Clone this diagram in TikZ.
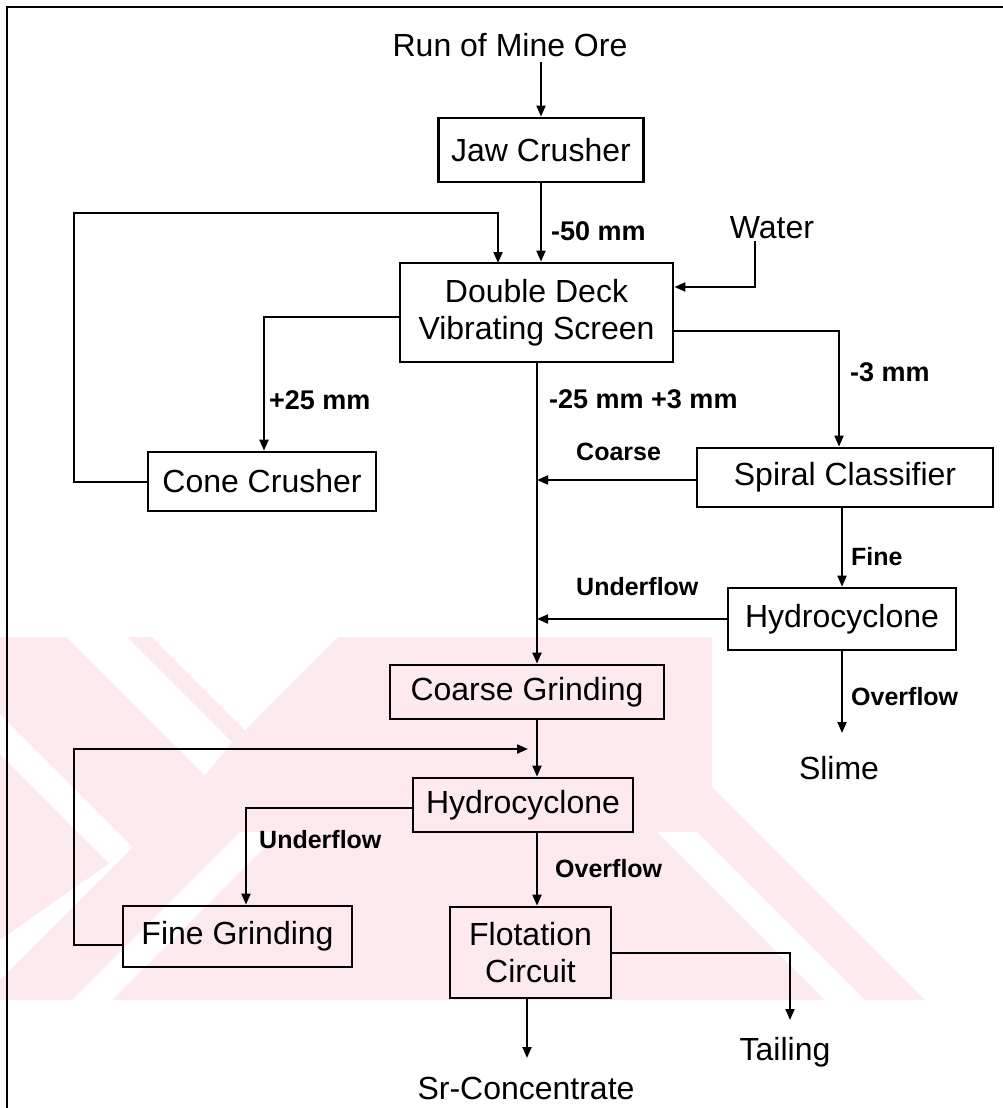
\documentclass[tikz,border=0pt]{standalone}
\usepackage{fontspec}
\setmainfont{Liberation Sans}
\usetikzlibrary{arrows.meta,calc}

\newcommand\mainsize{\fontsize{32}{37}\selectfont}
\newcommand\lblsize{\fontsize{25}{29}\selectfont\bfseries}
\newcommand\mmsize{\fontsize{27}{31}\selectfont\bfseries}
\definecolor{wmpink}{RGB}{253,234,238}

\begin{document}
\begin{tikzpicture}[x=1pt,y=-1pt,
  unit/.style={draw,line width=2.8pt,inner sep=0pt,font=\mainsize,align=center},
  term/.style={inner sep=0pt,font=\mainsize},
  lbl/.style={inner sep=0pt,font=\lblsize,anchor=west},
  mmlbl/.style={inner sep=0pt,font=\mmsize,anchor=west},
  arr/.style={line width=2pt,-{Triangle[length=11pt,width=9pt]}}]

\useasboundingbox (0,0) rectangle (1003,1108);

% faint background emblem
\fill[wmpink] (0,637) -- (712,637) -- (712,787) -- (925,1000) -- (0,1000) -- cycle;
\fill[white] (67,637) -- (127,637) -- (232,742) -- (205,775) -- cycle;
\fill[white] (152,637) -- (338,637) -- (245,730) -- cycle;
\fill[white] (0,714) -- (0,754) -- (113,867) -- (133,847) -- cycle;
\fill[white] (133,847) -- (113,867) -- (0,980) -- (0,940) -- cycle;
\fill[white] (657,832) -- (697,832) -- (865,1000) -- (825,1000) -- cycle;
\fill[white] (240,832) -- (280,832) -- (112,1000) -- (72,1000) -- cycle;

% frame
\draw[line width=2.6pt] (7,1108) -- (7,7) -- (1003,7);

% units
\node[term] (run) at (510,45) {Run of Mine Ore};
\node[unit,minimum width=205pt,minimum height=64pt] (jaw) at (541,150) {Jaw Crusher};
\node[unit,minimum width=273pt,minimum height=99pt] (dds) at (536.5,312.5) {Double Deck\\Vibrating Screen};
\node[term] (water) at (772,228) {Water};
\node[unit,minimum width=228pt,minimum height=59pt] (cone) at (262,481.5) {Cone Crusher};
\node[unit,minimum width=296pt,minimum height=59pt] (spiral) at (845,477.5) {Spiral Classifier};
\node[unit,minimum width=228pt,minimum height=62pt] (hc1) at (842,619) {Hydrocyclone};
\node[term] (slime) at (839,768) {Slime};
\node[unit,minimum width=274pt,minimum height=54pt] (cg) at (527,692) {Coarse Grinding};
\node[unit,minimum width=220pt,minimum height=54pt] (hc2) at (523,805) {Hydrocyclone};
\node[unit,minimum width=229pt,minimum height=61pt] (fg) at (237.5,936.5) {Fine Grinding};
\node[unit,minimum width=161pt,minimum height=91pt] (flot) at (530.5,952.5) {Flotation\\Circuit};
\node[term] (tail) at (785,1052) {Tailing};
\node[term] (sr) at (526,1088) {Sr-Concentrate};

% turning points and free ends
\coordinate (col) at (537,0);
\coordinate (fbc) at (74,213);
\coordinate (fbin) at (498,263);
\coordinate (wy) at (0,287);
\coordinate (fgc) at (74,749);
\coordinate (fgtip) at (528,749);
\coordinate (slimetip) at (842,733);
\coordinate (tailtip) at (790,1020);
\coordinate (srtip) at (527,1058);

% connectors
\draw[arr] (run.south -| jaw.north) ++(0,5) -- (jaw.north);
\draw[arr] (jaw.south) -- (jaw.south |- dds.north);
\draw[arr] (cone.west) -| (fbc) -| (fbin);
\draw[arr] ([xshift=-17pt,yshift=-2pt]water.south) |- (dds.east |- wy);
\draw[arr] ([yshift=-4.5pt]dds.west) -| ([xshift=2pt]cone.north);
\draw[arr] ([yshift=-18.5pt]dds.east) -| ([xshift=-6pt]spiral.north);
\draw[arr] (col |- dds.south) -- (col |- cg.north);
\draw[arr] ([yshift=-2.5pt]spiral.west) -- ([yshift=-2.5pt]spiral.west -| col);
\draw[arr] (hc1.north |- spiral.south) -- (hc1.north);
\draw[arr] (hc1.west) -- (hc1.west -| col);
\draw[arr] (hc1.south) -- (slimetip);
\draw[arr] (col |- cg.south) -- (col |- hc2.north);
\draw[arr] ([yshift=-8.5pt]fg.west) -| (fgc) -- (fgtip);
\draw[arr] ([yshift=-3pt]hc2.west) -| ([xshift=8.5pt]fg.north);
\draw[arr] (col |- hc2.south) -- (col |- flot.north);
\draw[arr] (flot.east) -| (tailtip);
\draw[arr] (flot.south -| srtip) -- (srtip);

% stream labels
\node[mmlbl] at (551,231) {-50 mm};
\node[mmlbl] at (269,400) {+25 mm};
\node[mmlbl] at (549,399) {-25 mm +3 mm};
\node[mmlbl] at (850,372) {-3 mm};
\node[lbl] at (576,452) {Coarse};
\node[lbl] at (851,557) {Fine};
\node[lbl] at (576,587) {Underflow};
\node[lbl] at (851,697) {Overflow};
\node[lbl] at (259,840) {Underflow};
\node[lbl] at (555,869) {Overflow};
\end{tikzpicture}
\end{document}
